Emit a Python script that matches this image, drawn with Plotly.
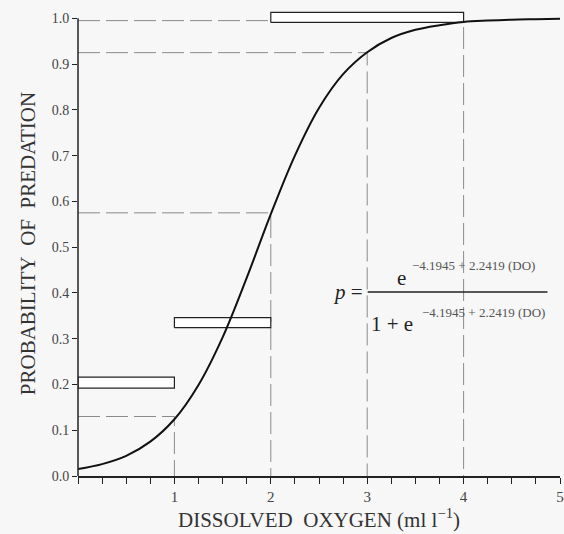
import plotly.graph_objects as go

# Fitted curve
do_x = [0, 0.25, 0.5, 0.75, 1.0, 1.25, 1.5, 1.75, 2.0, 2.25, 2.5, 2.75, 3.0, 3.25, 3.5, 3.75, 4.0, 4.25, 4.5, 4.75, 5.0]
p_fit = [0.015, 0.026, 0.044, 0.075, 0.124, 0.199, 0.303, 0.433, 0.572, 0.700, 0.804, 0.878, 0.926, 0.957, 0.975, 0.985, 0.992, 0.995, 0.997, 0.998, 0.999]

# Predicted values marked by dashed guide lines
guide_x = [1, 2, 3, 4]
guide_p = [0.13, 0.575, 0.925, 0.995]

# Observed proportions (boxes spanning DO intervals)
box_x0 = [0.0, 1.0, 2.0]
box_x1 = [1.0, 2.0, 4.0]
box_lo = [0.192, 0.324, 0.991]
box_hi = [0.216, 0.346, 1.013]

x_ticks = [1, 2, 3, 4, 5]
x_ticktext = ["1", "2", "3", "4", "5"]

FONT = "Liberation Serif"
GUIDE = "#8a8a8a"

fig = go.Figure()

# dashed guides
for gx, gp in zip(guide_x, guide_p):
    fig.add_trace(go.Scatter(x=[0, gx, gx], y=[gp, gp, 0], mode="lines",
                             line=dict(color=GUIDE, width=1, dash="22px,6px"),
                             hoverinfo="skip", showlegend=False))

# boxes
for a, b, lo, hi in zip(box_x0, box_x1, box_lo, box_hi):
    fig.add_trace(go.Scatter(x=[a, b, b, a, a], y=[lo, lo, hi, hi, lo], mode="lines",
                             fill="toself", fillcolor="white",
                             line=dict(color="#222", width=1.2),
                             hoverinfo="skip", showlegend=False))

# logistic curve
fig.add_trace(go.Scatter(x=do_x, y=p_fit, mode="lines", line_shape="spline",
                         line=dict(color="#111", width=2), showlegend=False))

# y axis line (only up to 1.0)
fig.add_shape(type="line", xref="paper", yref="y", x0=0, x1=0, y0=0, y1=1.0,
              line=dict(color="#222", width=1.5))

# equation
eq_color = "#222"
sup_color = "#555"
fig.add_annotation(x=2.80, y=0.402, text="<i>p</i> =", showarrow=False,
                   font=dict(family=FONT, size=21, color=eq_color))
fig.add_annotation(x=3.36, y=0.432, text="e", showarrow=False,
                   font=dict(family=FONT, size=21, color=eq_color))
fig.add_annotation(x=4.10, y=0.461, text="\u22124.1945 + 2.2419 (DO)", showarrow=False,
                   font=dict(family=FONT, size=13, color=sup_color))
fig.add_shape(type="line", xref="x", yref="y", x0=3.005, x1=4.87, y0=0.402, y1=0.402,
              line=dict(color="#222", width=1.5))
fig.add_annotation(x=3.26, y=0.332, text="1 + e", showarrow=False,
                   font=dict(family=FONT, size=21, color=eq_color))
fig.add_annotation(x=4.21, y=0.358, text="\u22124.1945 + 2.2419 (DO)", showarrow=False,
                   font=dict(family=FONT, size=13, color=sup_color))

fig.update_layout(
    width=564, height=534,
    margin=dict(l=78, r=4, t=11, b=58),
    paper_bgcolor="#f7f7f7", plot_bgcolor="#f7f7f7",
    font=dict(family=FONT, color="#333"),
    xaxis=dict(range=[0, 5], tickmode="array", tickvals=x_ticks, ticktext=x_ticktext,
               ticks="outside", ticklen=6, tickwidth=1, tickcolor="#222",
               minor=dict(tickmode="linear", dtick=0.25, tick0=0, ticks="outside",
                          ticklen=6, tickcolor="#222"),
               showline=True, linecolor="#222", linewidth=1.5,
               showgrid=False, zeroline=False, automargin=False,
               tickfont=dict(family=FONT, size=15, color="#444"),
               title=dict(text="DISSOLVED&nbsp; OXYGEN (ml l<sup>\u22121</sup>)",
                          font=dict(family=FONT, size=21, color="#333"), standoff=8)),
    yaxis=dict(range=[0, 1.016], tick0=0, dtick=0.1, tickformat=".1f",
               ticks="outside", ticklen=5, tickwidth=1, tickcolor="#222",
               showline=False, showgrid=False, zeroline=False, automargin=False,
               tickfont=dict(family=FONT, size=14, color="#444"),
               title=dict(text="PROBABILITY&nbsp; OF&nbsp; PREDATION",
                          font=dict(family=FONT, size=21, color="#333"), standoff=10)),
)

fig.write_html("out.html", config={"displayModeBar": False},
               post_script="document.body.style.margin='0';document.body.style.overflow='hidden';")
